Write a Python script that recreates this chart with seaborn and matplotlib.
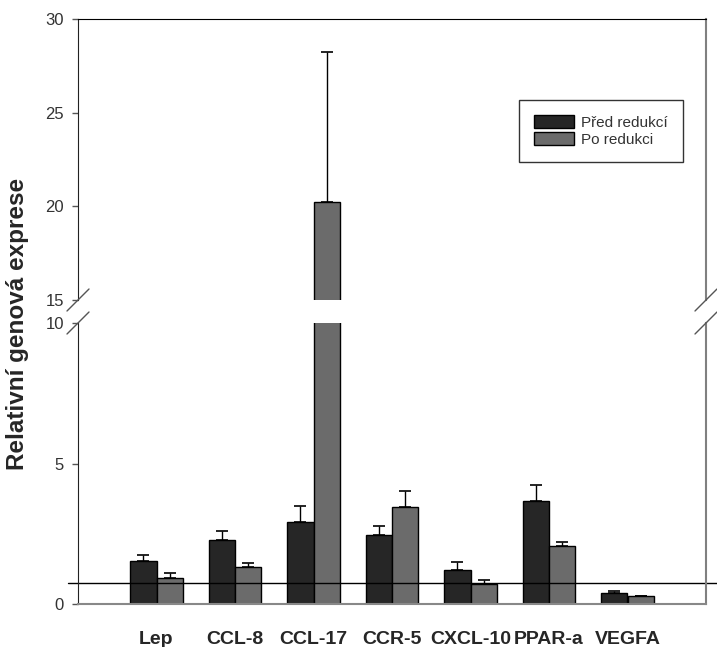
import matplotlib
matplotlib.use("Agg")
import matplotlib.pyplot as plt
from matplotlib.lines import Line2D
import numpy as np
import pandas as pd
import seaborn as sns

# hodnoty
geny = ['Lep', 'CCL-8', 'CCL-17', 'CCR-5', 'CXCL-10', 'PPAR-a', 'VEGFA']
pred = [1.54, 2.29, 2.91, 2.44, 1.21, 3.65, 0.38]
pred_err = [0.21, 0.31, 0.57, 0.35, 0.28, 0.58, 0.07]
po = [0.91, 1.31, 20.25, 3.44, 0.72, 2.05, 0.27]
po_err = [0.18, 0.14, 8.01, 0.58, 0.12, 0.16, 0.03]
prah = 0.73

skupiny = ['Před redukcí', 'Po redukci']
barvy = ['#262626', '#6b6b6b']

df = pd.DataFrame({
    'gen': geny * 2,
    'skupina': [skupiny[0]] * len(geny) + [skupiny[1]] * len(geny),
    'hodnota': pred + po,
    'chyba': pred_err + po_err,
})

sns.set_style("white")
plt.rcParams['font.family'] = ['Liberation Sans', 'DejaVu Sans']

fig = plt.figure(figsize=(7.17, 6.47), dpi=100)
W, H = 717, 647
x0, x1 = 78, 706
ax_hi = fig.add_axes([x0 / W, 1 - 300 / H, (x1 - x0) / W, 281 / H])
ax_lo = fig.add_axes([x0 / W, 1 - 604 / H, (x1 - x0) / W, 281 / H])

for ax in (ax_hi, ax_lo):
    sns.barplot(data=df, x='gen', y='hodnota', hue='skupina', hue_order=skupiny,
                order=geny, palette=barvy, width=0.67, gap=0, errorbar=None,
                edgecolor='black', linewidth=1, saturation=1, ax=ax, legend=(ax is ax_hi))
    # chybové úsečky jen nahoru
    for i, sk in enumerate(skupiny):
        sub = df[df['skupina'] == sk]
        pos = np.arange(len(geny)) + (-0.1675 if i == 0 else 0.1675)
        ax.errorbar(pos, sub['hodnota'], yerr=[np.zeros(len(sub)), sub['chyba']],
                    fmt='none', ecolor='black', elinewidth=1, capsize=4.5, capthick=1.2)
    ax.set_xlim(-1, 7)
    ax.set_xlabel('')
    ax.set_ylabel('')
    ax.tick_params(axis='y', direction='out', length=4, width=1, color='#555555',
                   labelsize=12, labelcolor='#333333', left=True, pad=6)
    ax.spines['left'].set_color('#222222')
    ax.spines['right'].set_color('#808080')
    ax.spines['right'].set_linewidth(1.5)

ax_hi.set_ylim(15, 30)
ax_hi.set_yticks([15, 20, 25, 30])
ax_hi.spines['bottom'].set_visible(False)
ax_hi.spines['top'].set_color('black')
ax_hi.tick_params(axis='x', bottom=False, labelbottom=False)

ax_lo.set_ylim(0, 10)
ax_lo.set_yticks([0, 5, 10])
ax_lo.spines['top'].set_visible(False)
ax_lo.spines['bottom'].set_color('#888888')
ax_lo.spines['bottom'].set_linewidth(1.5)
ax_lo.tick_params(axis='x', bottom=False, labelsize=14, pad=16)
for t in ax_lo.get_xticklabels():
    t.set_fontweight('bold')

ax_lo.axhline(prah, xmin=-0.016, xmax=1.02, color='black', linewidth=1, clip_on=False)

# legenda
leg = ax_hi.legend(loc='upper left', bbox_to_anchor=(0.702, 0.712), borderaxespad=0,
                   frameon=True, fancybox=False, edgecolor='black', fontsize=11,
                   handlelength=2.6, handleheight=0.9, handletextpad=0.5,
                   labelspacing=0.15, borderpad=1.0, title=None)
leg.get_frame().set_linewidth(1)
for t in leg.get_texts():
    t.set_color('#333333')

# značky přerušení osy
for xs in (x0, x1):
    for yc in (300, 323):
        fig.add_artist(Line2D([(xs - 11) / W, (xs + 11) / W],
                              [1 - (yc + 11) / H, 1 - (yc - 11) / H],
                              color='#555555', linewidth=1))

fig.text(18 / W, 0.5, 'Relativní genová exprese', rotation=90, va='center', ha='center',
         fontsize=17.5, fontweight='bold')

fig.savefig('out.png', dpi=100)
